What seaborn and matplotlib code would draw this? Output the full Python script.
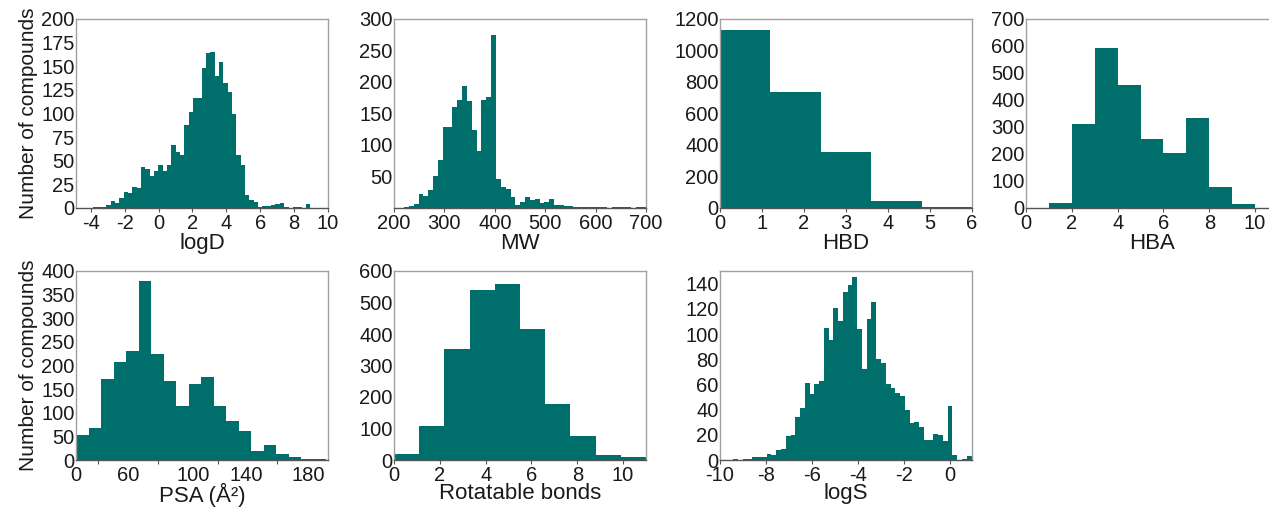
import numpy as np
import pandas as pd
import matplotlib
matplotlib.use("Agg")
import matplotlib.pyplot as plt
from matplotlib.ticker import FixedLocator, FixedFormatter, NullFormatter
import seaborn as sns

# ---------------- data (bin start, bin width, counts) ----------------
logd_start, logd_width = -3.85, 0.256
logd_counts = [1, 1, 1, 3, 7, 5, 11, 17, 16, 22, 21, 43, 41, 34, 39, 45, 39, 46, 67, 59,
               56, 88, 102, 116, 116, 148, 164, 165, 140, 155, 132, 123, 99, 56, 45, 14, 8, 6, 1, 2,
               2, 3, 4, 5, 1, 0, 1, 1, 0, 4]

mw_start, mw_width = 220, 9.6
mw_counts = [1, 3, 6, 23, 19, 29, 51, 76, 128, 129, 160, 171, 193, 170, 124, 90, 172, 176, 274, 46,
             33, 30, 18, 5, 10, 18, 13, 15, 8, 10, 15, 4, 4, 3, 3, 2, 1, 1, 2, 1,
             1, 1, 0, 1, 1, 2, 1, 0, 1, 1]

hbd_start, hbd_width = 0, 1.2
hbd_counts = [1128, 736, 356, 47, 4]

hba_start, hba_width = 1, 1
hba_counts = [18, 311, 593, 456, 257, 205, 333, 78, 16]

psa_start, psa_width = 0, 9.5
psa_counts = [53, 67, 172, 208, 230, 378, 224, 167, 115, 160, 175, 115, 83, 62, 20, 32, 13, 6, 2, 3]
psa_tick_labels = ["0", "60", "100", "140", "180"]

rb_start, rb_width = 0, 1.1
rb_counts = [18, 108, 352, 540, 558, 415, 177, 77, 16, 9]

logs_start, logs_width = -9.42, 0.207
logs_counts = [1, 0, 1, 1, 2, 2, 2, 5, 4, 8, 9, 19, 20, 34, 41, 61, 52, 60, 63, 105,
               95, 121, 110, 133, 139, 145, 104, 72, 112, 125, 80, 77, 60, 57, 53, 51, 40, 29, 30, 26,
               16, 16, 21, 20, 15, 43, 4, 0, 1, 3]

panels = [
    dict(name="logD", start=logd_start, width=logd_width, counts=logd_counts,
         xlim=(-4.87, 10), xticks=[-4, -2, 0, 2, 4, 6, 8, 10], ylim=(0, 200),
         yticks=[0, 25, 50, 75, 100, 125, 150, 175, 200], pos=(76, 19), ylabel=True, lpad=0),
    dict(name="MW", start=mw_start, width=mw_width, counts=mw_counts,
         xlim=(200, 700), xticks=[200, 300, 400, 500, 600, 700], ylim=(0, 300),
         yticks=[50, 100, 150, 200, 250, 300], pos=(394, 19), ylabel=False, lpad=0),
    dict(name="HBD", start=hbd_start, width=hbd_width, counts=hbd_counts,
         xlim=(0, 6), xticks=[0, 1, 2, 3, 4, 5, 6], ylim=(0, 1200),
         yticks=[0, 200, 400, 600, 800, 1000, 1200], pos=(720, 19), ylabel=False, lpad=0),
    dict(name="HBA", start=hba_start, width=hba_width, counts=hba_counts,
         xlim=(0, 11), xticks=[0, 2, 4, 6, 8, 10], ylim=(0, 700),
         yticks=[0, 100, 200, 300, 400, 500, 600, 700], pos=(1026, 19), ylabel=False,
         noright=True, lpad=0),
    dict(name="PSA (Å²)", start=psa_start, width=psa_width, counts=psa_counts,
         xlim=(0, 191.5), xticks=[0, 39.7, 89.1, 129.7, 176.5], xlabels=psa_tick_labels,
         minor=[16.9, 62.5, 108.1, 152.5], ylim=(0, 400),
         yticks=[0, 50, 100, 150, 200, 250, 300, 350, 400], pos=(76, 271), ylabel=True, lpad=-1),
    dict(name="Rotatable bonds", start=rb_start, width=rb_width, counts=rb_counts,
         xlim=(0, 11), xticks=[0, 2, 4, 6, 8, 10], ylim=(0, 600),
         yticks=[0, 100, 200, 300, 400, 500, 600], pos=(394, 271), ylabel=False, lpad=-1),
    dict(name="logS", start=logs_start, width=logs_width, counts=logs_counts,
         xlim=(-10, 0.95), xticks=[-10, -8, -6, -4, -2, 0], ylim=(0, 150),
         yticks=[0, 20, 40, 60, 80, 100, 120, 140], pos=(720, 271), ylabel=False, lpad=-1),
]

BAR = "#006f6b"
SPINE = "#a0a0a0"
TXT = "#1a1a1a"

sns.set_theme(style="white")
plt.rcParams["font.family"] = ["Liberation Sans", "DejaVu Sans"]
plt.rcParams["axes.unicode_minus"] = False

W, H = 1269, 508
fig = plt.figure(figsize=(W / 100, H / 100), dpi=100)
AW, AH = 252, 189

for p in panels:
    x0, y0 = p["pos"]
    ax = fig.add_axes([x0 / W, 1 - (y0 + AH) / H, AW / W, AH / H])
    n = len(p["counts"])
    lo = p["start"]
    hi = p["start"] + p["width"] * n
    centers = lo + p["width"] * (np.arange(n) + 0.5)
    df = pd.DataFrame({"x": centers, "w": np.asarray(p["counts"], dtype=float)})
    sns.histplot(data=df, x="x", weights="w", bins=n, binrange=(lo, hi),
                 element="step", fill=True, color=BAR, alpha=1, linewidth=0, ax=ax)
    ax.set_xlim(*p["xlim"])
    ax.set_ylim(*p["ylim"])
    ax.set_yticks(p["yticks"])
    ax.tick_params(axis="both", labelsize=14.5, colors=TXT, pad=1)
    ax.tick_params(axis="y", length=0, left=False)
    if "xlabels" in p:
        ax.xaxis.set_major_locator(FixedLocator(p["xticks"]))
        ax.xaxis.set_major_formatter(FixedFormatter(p["xlabels"]))
        ax.xaxis.set_minor_locator(FixedLocator(p["minor"]))
        ax.xaxis.set_minor_formatter(NullFormatter())
        ax.tick_params(axis="x", which="major", length=0, pad=4)
        ax.tick_params(axis="x", which="minor", length=3, width=0.8, color="#555555",
                       direction="out", bottom=True)
    else:
        ax.set_xticks(p["xticks"])
        ax.tick_params(axis="x", length=3, width=0.8, color="#555555", direction="out",
                       bottom=True)
    for s in ax.spines.values():
        s.set_color(SPINE)
        s.set_linewidth(1.0)
    ax.spines["bottom"].set_color("#555555")
    if p.get("noright"):
        ax.spines["right"].set_visible(False)
    ax.set_xlabel(p["name"], fontsize=16, labelpad=p["lpad"], color=TXT)
    if p["ylabel"]:
        ax.set_ylabel("Number of compounds", fontsize=15, labelpad=2, color=TXT)
    else:
        ax.set_ylabel("")

fig.savefig("out.png", dpi=100)
